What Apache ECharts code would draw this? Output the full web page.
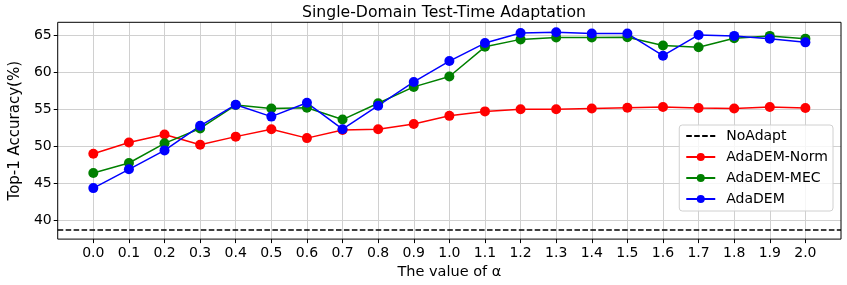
<!DOCTYPE html>
<html>
<head>
<meta charset="utf-8">
<script src="https://cdn.jsdelivr.net/npm/echarts@6/dist/echarts.min.js"></script>
<style>html,body{margin:0;padding:0;background:#fff}#c{width:847px;height:285px}</style>
</head>
<body>
<div id="c"></div>
<script>
const alphas = [0.0,0.1,0.2,0.3,0.4,0.5,0.6,0.7,0.8,0.9,1.0,1.1,1.2,1.3,1.4,1.5,1.6,1.7,1.8,1.9,2.0];
const normVals = [49.0,50.5,51.6,50.2,51.3,52.3,51.1,52.2,52.3,53.0,54.1,54.7,55.0,55.0,55.1,55.2,55.3,55.15,55.1,55.3,55.15];
const mecVals  = [46.4,47.75,50.4,52.4,55.55,55.1,55.2,53.6,55.8,58.0,59.4,63.4,64.4,64.65,64.65,64.7,63.57,63.35,64.55,64.87,64.5];
const demVals  = [44.37,46.9,49.45,52.75,55.6,54.0,55.86,52.3,55.47,58.67,61.48,63.9,65.27,65.35,65.18,65.18,62.2,65.0,64.87,64.5,64.0];
const noAdapt = 38.75;
const yTicks = [40,45,50,55,60,65];
const seriesNames = ['NoAdapt','AdaDEM-Norm','AdaDEM-MEC','AdaDEM'];

const pairs = vals => alphas.map((a,i)=>[a, vals[i]]);
const font = 'DejaVu Sans';
const chart = echarts.init(document.getElementById('c'), null, {renderer:'canvas'});
const lineSeries = (name, vals, color) => ({
  name, type:'line', data: pairs(vals), symbol:'circle', symbolSize:10,
  itemStyle:{color}, lineStyle:{color, width:1.5}, emphasis:{disabled:true}, animation:false, z:3
});
const dash = [5.55, 2.4];
chart.setOption({
  animation:false,
  title:{text:'Single-Domain Test-Time Adaptation', left:444, textAlign:'center', top:5, padding:0,
    textStyle:{fontFamily:font, fontSize:15.7, fontWeight:'normal', color:'#000'}},
  grid:{left:47.3, right:6, top:22.3, bottom:44.3, show:true, borderColor:'#000', borderWidth:1, backgroundColor:'transparent', z:4},
  legend:{
    orient:'vertical', right:14, top:125,
    data:[{name:seriesNames[0], itemStyle:{opacity:0}}, seriesNames[1], seriesNames[2], seriesNames[3]],
    itemWidth:29, itemHeight:10, itemGap:7, padding:[4,5,5,6],
    borderColor:'#d0d0d0', borderWidth:1, borderRadius:3, backgroundColor:'rgba(255,255,255,0.8)',
    textStyle:{fontFamily:font, fontSize:14, color:'#000', lineHeight:14, padding:[0,0,0,6]}
  },
  xAxis:{type:'value', min:-0.1, max:2.1,
    name:'The value of α', nameLocation:'middle', nameGap:24,
    nameTextStyle:{fontFamily:font, fontSize:14.5, color:'#000'},
    axisLine:{show:false, onZero:false},
    axisTick:{show:true, length:4, lineStyle:{color:'#000'}, customValues:alphas},
    axisLabel:{fontFamily:font, fontSize:14, color:'#000', margin:7, customValues:alphas,
      formatter:v => v.toFixed(1)},
    splitLine:{show:true, lineStyle:{color:'#d0d0d0', width:1}}
  },
  yAxis:{type:'value', min:37.5, max:66.7,
    name:'Top-1 Accuracy(%)', nameLocation:'middle', nameGap:28,
    nameTextStyle:{fontFamily:font, fontSize:15, color:'#000'},
    axisLine:{show:false, onZero:false},
    axisTick:{show:true, length:4, lineStyle:{color:'#000'}, customValues:yTicks},
    axisLabel:{fontFamily:font, fontSize:14, color:'#000', margin:6, customValues:yTicks,
      formatter:v => String(v)},
    splitLine:{show:true, lineStyle:{color:'#d0d0d0', width:1}}
  },
  series:[
    {name:seriesNames[0], type:'line', data:[], symbol:'none', itemStyle:{color:'#000'},
     lineStyle:{color:'#000', width:1.5, type:dash},
     markLine:{silent:true, symbol:'none', label:{show:false},
       lineStyle:{color:'#000', width:1.5, type:dash}, data:[{yAxis:noAdapt}]}, z:2},
    lineSeries(seriesNames[1], normVals, '#ff0000'),
    lineSeries(seriesNames[2], mecVals, '#008000'),
    lineSeries(seriesNames[3], demVals, '#0000ff')
  ]
});
</script>
</body>
</html>
